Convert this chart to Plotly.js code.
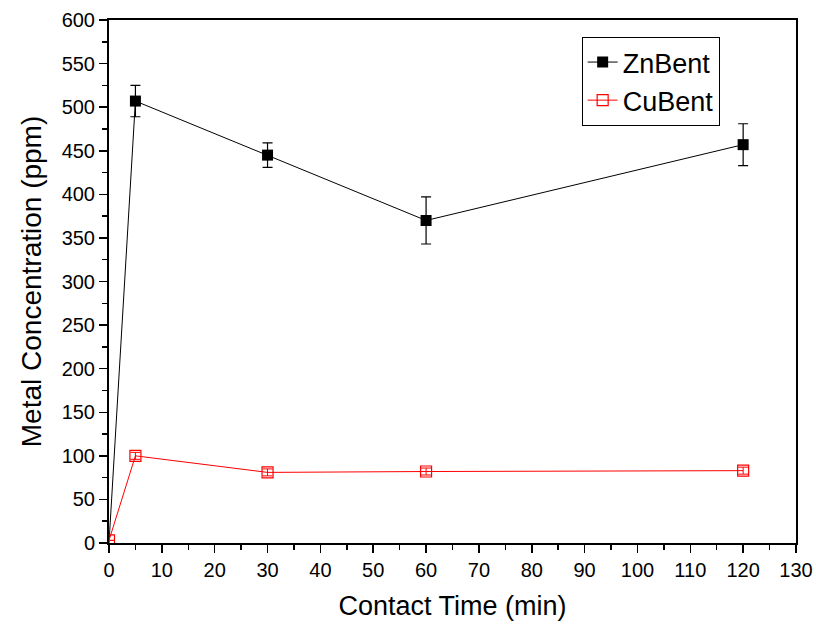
<!DOCTYPE html>
<html>
<head>
<meta charset="utf-8">
<script src="https://cdn.plot.ly/plotly-3.0.1.min.js"></script>
<style>body{margin:0;padding:0;background:#fff;} #chart{width:816px;height:626px;}</style>
</head>
<body>
<div id="chart"></div>
<script>
const time = [0, 5, 30, 60, 120];
const znBent = [0, 507, 445, 370, 457];
const znErr = [0, 18, 14, 27, 24];
const cuBent = [3, 100, 81, 82, 83];
const cuErr = [0, 4, 4, 4, 4];
const xTicks = [0,10,20,30,40,50,60,70,80,90,100,110,120,130];
const yTicks = [0,50,100,150,200,250,300,350,400,450,500,550,600];

const font = 'Arial, "Liberation Sans", sans-serif';

const traces = [
  {
    x: time.slice(0, 2), y: znBent.slice(0, 2), type: 'scatter', mode: 'lines',
    line: {color: '#000000', width: 1}, showlegend: false, hoverinfo: 'skip'
  },
  {
    x: time.slice(1), y: znBent.slice(1), name: 'ZnBent', type: 'scatter', mode: 'lines+markers',
    line: {color: '#000000', width: 1},
    marker: {symbol: 'square', size: 11, color: '#000000'},
    error_y: {type: 'data', array: znErr.slice(1), visible: true, color: '#000000', thickness: 1.2, width: 5},
    cliponaxis: true
  },
  {
    x: time, y: cuBent, name: 'CuBent', type: 'scatter', mode: 'lines+markers',
    line: {color: '#ff0000', width: 1},
    marker: {symbol: 'square-open', size: 11, color: '#ff0000', line: {width: 1.2}},
    error_y: {type: 'data', array: cuErr, visible: true, color: '#ff0000', thickness: 1, width: 5},
    cliponaxis: true
  }
];

const axisCommon = {
  showline: true, linecolor: '#000', linewidth: 2, mirror: true,
  ticks: 'outside', ticklen: 8, tickwidth: 1.5, tickcolor: '#000',
  showgrid: false, zeroline: false,
  tickfont: {family: font, size: 20, color: '#000'}
};

const layout = {
  width: 816, height: 626,
  margin: {l: 109, r: 20, t: 20, b: 83},
  paper_bgcolor: '#fff', plot_bgcolor: '#fff',
  showlegend: true,
  xaxis: Object.assign({}, axisCommon, {
    range: [0, 130], tickvals: xTicks, ticktext: xTicks.map(String),
    minor: {dtick: 5, ticks: 'outside', ticklen: 5, tickwidth: 1.5, tickcolor: '#000'},
    title: {text: 'Contact Time (min)', font: {family: font, size: 27, color: '#000'}, standoff: 16}
  }),
  yaxis: Object.assign({}, axisCommon, {
    range: [0, 600], tickvals: yTicks, ticktext: yTicks.map(String),
    minor: {dtick: 25, ticks: 'outside', ticklen: 5, tickwidth: 1.5, tickcolor: '#000'},
    title: {text: 'Metal Concentration (ppm)', font: {family: font, size: 28, color: '#000'}, standoff: 12}
  }),
  legend: {
    x: 0.688, y: 0.9675, xanchor: 'left', yanchor: 'top',
    bordercolor: '#000', borderwidth: 1, bgcolor: '#fff',
    font: {family: font, size: 27, color: '#000'},
    tracegroupgap: 0
  }
};

Plotly.newPlot('chart', traces, layout, {displayModeBar: false, staticPlot: true});
</script>
</body>
</html>
